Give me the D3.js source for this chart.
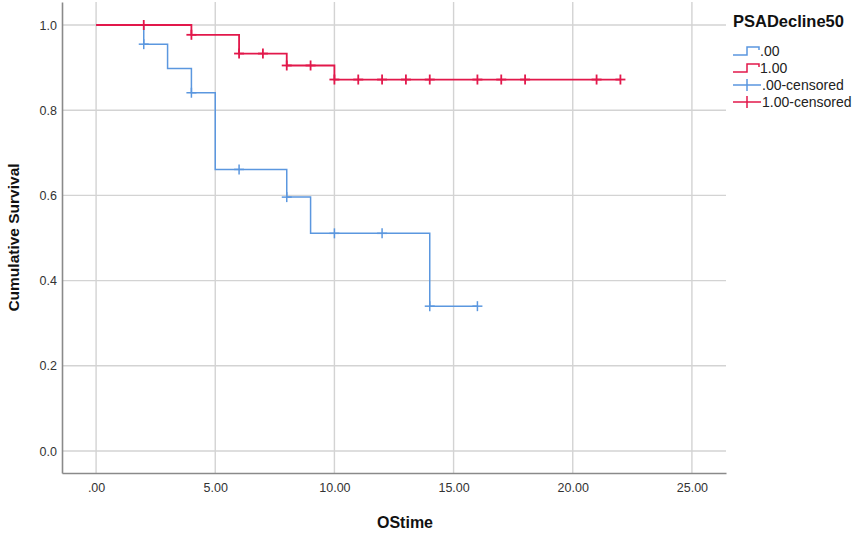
<!DOCTYPE html>
<html>
<head>
<meta charset="utf-8">
<script src="https://cdn.jsdelivr.net/npm/d3@7"></script>
<style>
  body { margin: 0; background: #fff; }
  svg { display: block; font-family: "Liberation Sans", Arial, sans-serif; }
</style>
</head>
<body>
<div id="chart"></div>
<script>
// Kaplan-Meier steps: [time, survival after the event]
const groupLabels = ['.00', '1.00'];
const steps0 = [[0, 1.0], [2, 0.955], [3, 0.898], [4, 0.841], [5, 0.661], [8, 0.596], [9, 0.511], [14, 0.340]];
const end0 = 16;
const censor0 = [[2, 0.955], [4, 0.841], [6, 0.661], [8, 0.596], [10, 0.511], [12, 0.511], [14, 0.340], [16, 0.340]];

const steps1 = [[0, 1.0], [4, 0.977], [6, 0.933], [8, 0.905], [10, 0.872]];
const end1 = 22;
const censor1 = [[2, 1.0], [4, 0.977], [6, 0.933], [7, 0.933], [8, 0.905], [9, 0.905],
    [10, 0.872], [11, 0.872], [12, 0.872], [13, 0.872], [14, 0.872], [16, 0.872],
    [17, 0.872], [18, 0.872], [21, 0.872], [22, 0.872]];

const xTicks = [0, 5, 10, 15, 20, 25];
const yTicks = [0, 0.2, 0.4, 0.6, 0.8, 1.0];
const legendTitle = 'PSADecline50';
const legendItems = ['.00', '1.00', '.00-censored', '1.00-censored'];

const colors = ['#5b97df', '#e2184b'];
const width = 861, height = 534;

const x = d3.scaleLinear().domain([-1.43, 26.43]).range([62, 726]);
const y = d3.scaleLinear().domain([-0.0516, 1.054]).range([473, 2]);

const svg = d3.select('#chart').append('svg')
    .attr('width', width)
    .attr('height', height);

// grid
const grid = svg.append('g').attr('stroke', '#d3d3d3').attr('stroke-width', 1.4);
grid.selectAll('line.v').data(xTicks).enter().append('line')
    .attr('x1', d => x(d)).attr('x2', d => x(d))
    .attr('y1', y.range()[1]).attr('y2', y.range()[0]);
grid.selectAll('line.h').data(yTicks).enter().append('line')
    .attr('x1', x.range()[0]).attr('x2', x.range()[1])
    .attr('y1', d => y(d)).attr('y2', d => y(d));

// axes
const xAxis = svg.append('g')
    .attr('transform', `translate(0,${y.range()[0]})`)
    .call(d3.axisBottom(x).tickValues(xTicks).tickSize(0).tickPadding(10)
        .tickFormat(d => d === 0 ? '.00' : d3.format('.2f')(d)));
const yAxis = svg.append('g')
    .attr('transform', `translate(${x.range()[0]},0)`)
    .call(d3.axisLeft(y).tickValues(yTicks).tickSize(0).tickPadding(5).tickFormat(d3.format('.1f')));

[xAxis, yAxis].forEach(a => {
    a.select('.domain').attr('stroke', '#8a8a8a').attr('stroke-width', 1.6);
    a.selectAll('text').attr('font-size', 12.5).attr('fill', '#333')
        .attr('font-family', '"Liberation Sans", Arial, sans-serif');
});

// axis titles
svg.append('text')
    .attr('x', 405).attr('y', 528)
    .attr('text-anchor', 'middle')
    .attr('font-size', 16).attr('font-weight', 'bold').attr('fill', '#111')
    .text('OStime');
svg.append('text')
    .attr('transform', `translate(19,${(y.range()[0] + y.range()[1]) / 2}) rotate(-90)`)
    .attr('text-anchor', 'middle')
    .attr('font-size', 15.5).attr('font-weight', 'bold').attr('fill', '#111')
    .text('Cumulative Survival');

// survival curves
const line = d3.line().x(d => x(d[0])).y(d => y(d[1])).curve(d3.curveStepAfter);

function drawGroup(steps, end, censor, color, sw) {
    const pts = steps.concat([[end, steps[steps.length - 1][1]]]);
    svg.append('path')
        .datum(pts)
        .attr('fill', 'none')
        .attr('stroke', color)
        .attr('stroke-width', sw)
        .attr('d', line);

    const g = svg.append('g').attr('stroke', color).attr('stroke-width', sw);
    g.selectAll('line.h').data(censor).enter().append('line')
        .attr('x1', d => x(d[0]) - 5).attr('x2', d => x(d[0]) + 5)
        .attr('y1', d => y(d[1])).attr('y2', d => y(d[1]));
    g.selectAll('line.v').data(censor).enter().append('line')
        .attr('x1', d => x(d[0])).attr('x2', d => x(d[0]))
        .attr('y1', d => y(d[1]) - 5).attr('y2', d => y(d[1]) + 5);
}

drawGroup(steps0, end0, censor0, colors[0], 1.5);
drawGroup(steps1, end1, censor1, colors[1], 1.8);

// legend
const lg = svg.append('g').attr('transform', 'translate(733,0)');
lg.append('text')
    .attr('x', 0).attr('y', 27)
    .attr('font-size', 16.5).attr('font-weight', 'bold').attr('fill', '#111')
    .text(legendTitle);

const rowY = [51, 68, 85, 102];
legendItems.forEach((label, i) => {
    const cy = rowY[i];
    const color = colors[i % 2];
    const row = lg.append('g');
    if (i < 2) {
        row.append('path')
            .attr('d', `M0,${cy + 4}H14V${cy - 4}H26V${cy - 1}`)
            .attr('fill', 'none').attr('stroke', color).attr('stroke-width', 1.5);
    } else {
        row.append('path')
            .attr('d', `M0,${cy}H28M14,${cy - 6}V${cy + 6}`)
            .attr('fill', 'none').attr('stroke', color).attr('stroke-width', 1.5);
    }
    row.append('text')
        .attr('x', i < 2 ? 27 : 29).attr('y', cy + 5)
        .attr('font-size', 14).attr('fill', '#222')
        .text(label);
});
</script>
</body>
</html>
